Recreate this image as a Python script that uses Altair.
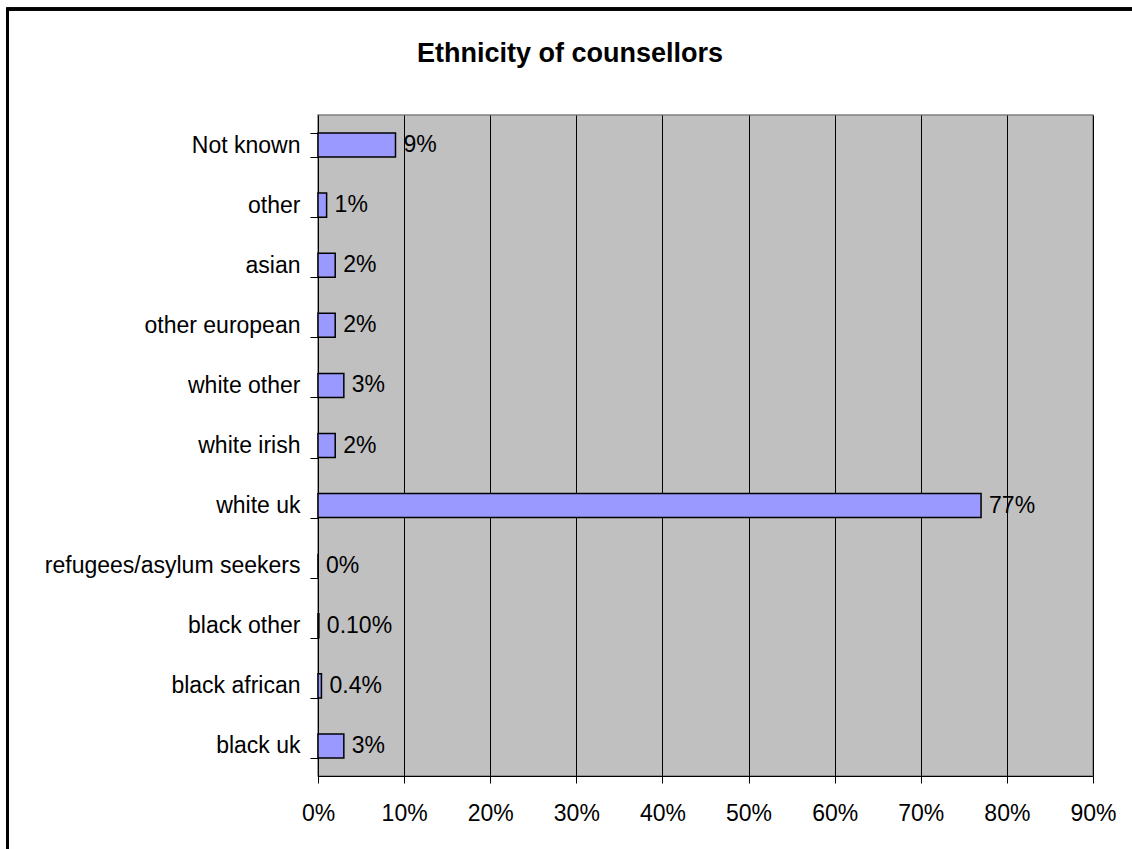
import altair as alt
import pandas as pd

categories = ["Not known", "other", "asian", "other european", "white other",
              "white irish", "white uk", "refugees/asylum seekers", "black other",
              "black african", "black uk"]
values = [9, 1, 2, 2, 3, 2, 77, 0, 0.1, 0.4, 3]
value_labels = ["9%", "1%", "2%", "2%", "3%", "2%", "77%", "0%", "0.10%", "0.4%", "3%"]
x_ticks = [0, 10, 20, 30, 40, 50, 60, 70, 80, 90]
title_text = "Ethnicity of counsellors"

df = pd.DataFrame({"cat": categories, "val": values, "lab": value_labels})

FONT = "Liberation Sans"
FS = 23

y_enc = alt.Y("cat:N", sort=categories,
              scale=alt.Scale(paddingInner=0.6, paddingOuter=0.3),
              axis=alt.Axis(title=None, labelFontSize=FS, labelFont=FONT,
                            labelColor="black", labelPadding=10, tickSize=8,
                            tickColor="black", domainColor="black",
                            tickBand="extent", grid=False, labelLimit=400))
x_enc = alt.X("val:Q", scale=alt.Scale(domain=[0, 90], nice=False),
              axis=alt.Axis(title=None, values=x_ticks,
                            labelExpr="datum.value + '%'", labelFlush=False,
                            labelFontSize=FS, labelFont=FONT, labelColor="black",
                            labelPadding=19, tickSize=7, tickColor="black",
                            domainColor="black", grid=True, gridColor="black",
                            gridOpacity=1, gridWidth=1))

base = alt.Chart(df)

bars = base.mark_bar(fill="#9999FF", stroke="black", strokeWidth=1.5).encode(
    x=x_enc, y=y_enc)

texts = base.mark_text(align="left", baseline="middle", dx=8, fontSize=FS,
                       font=FONT, color="black").encode(
    x="val:Q", y=alt.Y("cat:N", sort=categories), text="lab:N")

title = alt.Chart(pd.DataFrame({"t": [title_text]})).mark_text(
    font=FONT, fontSize=27, fontWeight="bold", color="black",
    align="center", baseline="alphabetic").encode(
    x=alt.value(252), y=alt.value(-53), text="t:N")

frame_left = alt.Chart(df).mark_rule(color="black", strokeWidth=2.5).encode(
    x=alt.value(-310.5), y=alt.value(-106), y2=alt.value(760))
frame_top = alt.Chart(df).mark_rule(color="black", strokeWidth=2.5).encode(
    x=alt.value(-311.5), x2=alt.value(850), y=alt.value(-106))

chart = alt.layer(bars, texts, title, frame_left, frame_top).properties(
    width=775, height=661,
    autosize=alt.AutoSizeParams(type="none"),
    padding={"left": 318, "top": 115, "right": 39, "bottom": 73},
    background="white",
).configure_view(fill="#C0C0C0", stroke="#808080", strokeWidth=1.5)

chart.save("out.html", embed_options={"renderer": "svg", "actions": False})
